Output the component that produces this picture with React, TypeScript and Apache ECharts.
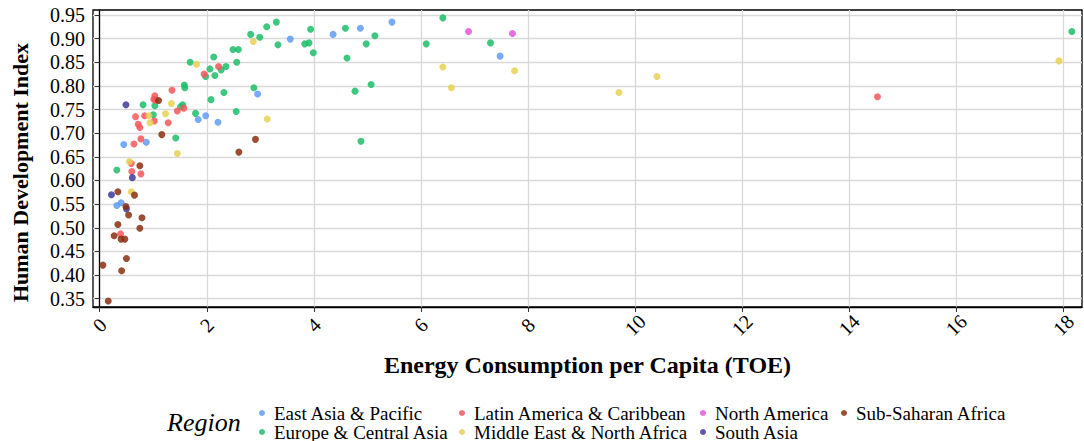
import React, { useEffect, useRef } from "react";
import * as echarts from "echarts";

// Energy use per capita (tonnes of oil equivalent) vs Human Development Index, by region
const regions = [
  "East Asia & Pacific",
  "Europe & Central Asia",
  "Latin America & Caribbean",
  "Middle East & North Africa",
  "North America",
  "South Asia",
  "Sub-Saharan Africa",
];

const regionColors = ["#5f9bf6", "#1bbd68", "#f7565b", "#e8d152", "#e455dd", "#3d3a98", "#8a2f10"];

const eastAsiaPacific: [number, number][] = [
  [0.45, 0.676], [0.87, 0.681], [1.84, 0.729], [1.98, 0.737], [2.21, 0.723], [2.95, 0.783],
  [3.56, 0.899], [4.36, 0.909], [4.87, 0.922], [5.46, 0.935], [7.48, 0.863], [0.4, 0.553],
  [0.32, 0.547],
];

const europeCentralAsia: [number, number][] = [
  [0.32, 0.622], [0.81, 0.76], [1.0, 0.739], [1.03, 0.758], [1.42, 0.69], [1.51, 0.756],
  [1.55, 0.76], [1.58, 0.802], [1.59, 0.796], [1.69, 0.85], [1.79, 0.742], [1.98, 0.82],
  [2.06, 0.836], [2.08, 0.771], [2.13, 0.861], [2.15, 0.822], [2.27, 0.834], [2.32, 0.786],
  [2.36, 0.841], [2.49, 0.877], [2.55, 0.746], [2.56, 0.85], [2.59, 0.877], [2.82, 0.909],
  [2.88, 0.796], [2.99, 0.903], [3.12, 0.925], [3.3, 0.935], [3.33, 0.887], [3.83, 0.889],
  [3.91, 0.891], [3.94, 0.92], [3.99, 0.87], [4.59, 0.922], [4.62, 0.859], [4.77, 0.789],
  [4.88, 0.683], [4.98, 0.889], [5.07, 0.803], [5.14, 0.906], [6.1, 0.889], [6.41, 0.944],
  [7.3, 0.891], [18.16, 0.915],
];

const latinAmericaCaribbean: [number, number][] = [
  [0.64, 0.677], [0.67, 0.735], [0.72, 0.719], [0.75, 0.712], [0.77, 0.688], [0.84, 0.737],
  [1.02, 0.726], [1.03, 0.779], [1.01, 0.772], [1.04, 0.77], [1.28, 0.722], [1.35, 0.791],
  [1.45, 0.747], [1.57, 0.753], [1.95, 0.825], [2.22, 0.841], [14.53, 0.777], [0.59, 0.636],
  [0.6, 0.619], [0.77, 0.614], [0.39, 0.487],
];

const middleEastNorthAfrica: [number, number][] = [
  [0.92, 0.737], [0.94, 0.722], [1.23, 0.741], [1.34, 0.763], [1.45, 0.657], [1.81, 0.846],
  [2.87, 0.894], [3.13, 0.73], [6.41, 0.84], [6.57, 0.796], [7.75, 0.832], [9.7, 0.786],
  [10.41, 0.82], [17.92, 0.853], [0.555, 0.64], [0.59, 0.576],
];

const northAmerica: [number, number][] = [
  [6.89, 0.915], [7.71, 0.911],
];

const southAsia: [number, number][] = [
  [0.49, 0.76], [0.61, 0.606], [0.22, 0.57], [0.5, 0.54],
];

const subSaharanAfrica: [number, number][] = [
  [1.1, 0.769], [1.16, 0.697], [2.6, 0.66], [2.91, 0.687], [0.75, 0.631], [0.34, 0.576],
  [0.65, 0.569], [0.49, 0.545], [0.54, 0.527], [0.79, 0.521], [0.34, 0.507], [0.75, 0.499],
  [0.27, 0.483], [0.4, 0.476], [0.47, 0.476], [0.5, 0.435], [0.06, 0.421], [0.41, 0.409],
  [0.16, 0.345],
];

const regionData = [
  eastAsiaPacific,
  europeCentralAsia,
  latinAmericaCaribbean,
  middleEastNorthAfrica,
  northAmerica,
  southAsia,
  subSaharanAfrica,
];

const xTicks = [0, 2, 4, 6, 8, 10, 12, 14, 16, 18];
const yTicks = [0.35, 0.4, 0.45, 0.5, 0.55, 0.6, 0.65, 0.7, 0.75, 0.8, 0.85, 0.9, 0.95];

// legend grid: entries fill each column top to bottom
const legendColumnLeft = [259, 459, 700, 841];
const legendRowTop = [403.5, 422.5];

const SERIF = '"Liberation Serif", "Times New Roman", "DejaVu Serif", serif';

export default function App() {
  const ref = useRef<HTMLDivElement>(null);

  useEffect(() => {
    if (!ref.current) return;
    const chart = echarts.init(ref.current, undefined, { renderer: "svg" });

    const gridLine = { show: true, lineStyle: { color: "#d9d9d9", width: 1.3 } };
    const axisLine = { show: true, lineStyle: { color: "#000", width: 1.3 } };
    const axisTick = { show: true, length: 5, lineStyle: { color: "#333", width: 1 } };

    chart.setOption({
      animation: false,
      backgroundColor: "#fff",
      title: {
        text: "Region",
        left: 167,
        top: 409,
        padding: 0,
        textStyle: { fontFamily: SERIF, fontStyle: "italic", fontWeight: "normal", fontSize: 26, color: "#000" },
      },
      // one legend per entry so the two-row, column-major layout stays fixed
      legend: regions.map((name, i) => ({
        data: [name],
        orient: "horizontal",
        left: legendColumnLeft[Math.floor(i / 2)],
        top: legendRowTop[i % 2],
        padding: 0,
        itemGap: 0,
        itemWidth: 6,
        itemHeight: 6,
        icon: "circle",
        selectedMode: false,
        textStyle: { fontFamily: SERIF, fontSize: 19, color: "#000", lineHeight: 18, padding: [0, 0, 0, 4] },
      })),
      grid: {
        left: 93,
        top: 10,
        right: 2,
        bottom: 134,
        show: true,
        borderColor: "#000",
        borderWidth: 1.3,
        containLabel: false,
        outerBoundsMode: "none",
      },
      xAxis: {
        type: "value",
        min: -0.125,
        max: 18.35,
        name: "Energy Consumption per Capita (TOE)",
        nameLocation: "middle",
        nameGap: 46,
        nameTextStyle: { fontFamily: SERIF, fontWeight: "bold", fontSize: 24, color: "#000" },
        axisLine,
        axisTick: { ...axisTick, customValues: xTicks },
        splitLine: gridLine,
        axisLabel: {
          customValues: xTicks,
          rotate: 45,
          align: "center",
          verticalAlign: "middle",
          margin: 18,
          fontFamily: SERIF,
          fontSize: 20,
          color: "#000",
        },
      },
      yAxis: {
        type: "value",
        min: 0.3324,
        max: 0.9606,
        name: "Human Development Index",
        nameLocation: "middle",
        nameGap: 62,
        nameTextStyle: {
          fontFamily: SERIF,
          fontWeight: "bold",
          fontSize: 22,
          color: "#000",
          padding: [0, 28, 0, 0],
        },
        axisLine,
        axisTick: { ...axisTick, customValues: yTicks },
        splitLine: gridLine,
        axisLabel: {
          customValues: yTicks,
          formatter: (v: number) => v.toFixed(2),
          margin: 8,
          fontFamily: SERIF,
          fontSize: 20,
          color: "#000",
        },
      },
      series: regions.map((name, i) => ({
        name,
        type: "scatter",
        data: regionData[i],
        symbol: "circle",
        symbolSize: 7,
        itemStyle: { color: regionColors[i], opacity: 0.85 },
        emphasis: { disabled: true },
      })),
    });

    return () => chart.dispose();
  }, []);

  return (
    <div
      ref={ref}
      style={{ position: "fixed", left: 0, top: 0, width: 1084, height: 441, background: "#fff" }}
    />
  );
}
